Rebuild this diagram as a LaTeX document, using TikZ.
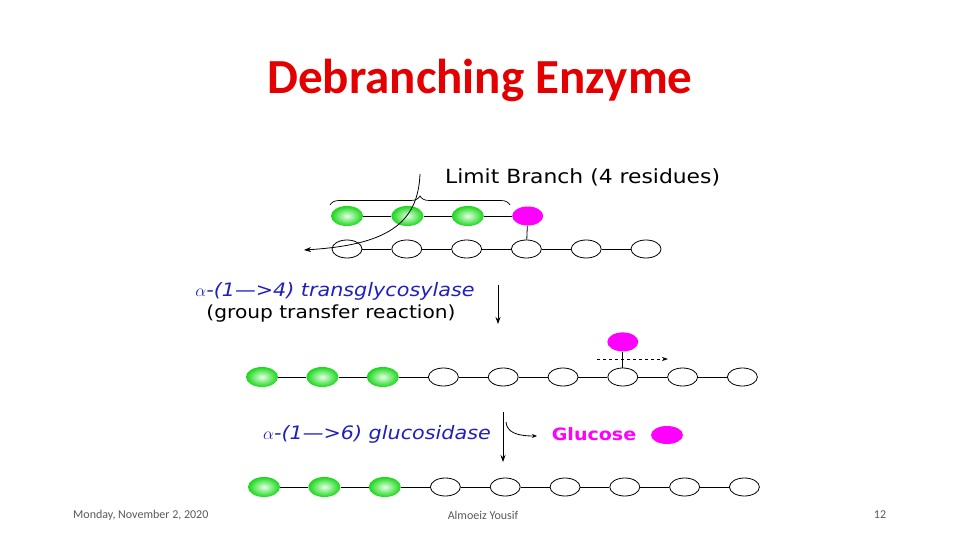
\documentclass[tikz,border=0pt]{standalone}
\usepackage{fontspec}
\setmainfont{Carlito}
\newfontfamily\comicfont[FakeStretch=1.12]{DejaVu Sans}
\usetikzlibrary{positioning,arrows.meta,shapes.geometric,decorations.pathreplacing}
\definecolor{dbred}{RGB}{228,0,0}
\definecolor{dbblue}{RGB}{32,32,190}
\definecolor{dbpink}{RGB}{255,0,255}
\definecolor{dbgreen}{RGB}{25,215,25}
\definecolor{dbgray}{RGB}{90,90,90}
\tikzset{
  res/.style={draw, ellipse, line width=0.8pt, minimum width=30pt, minimum height=18pt, inner sep=0pt},
  glc/.style={ellipse, minimum width=32pt, minimum height=20pt, inner sep=0pt, inner color=green!10, outer color=dbgreen},
  pinkres/.style={ellipse, fill=dbpink, minimum width=31pt, minimum height=19pt, inner sep=0pt},
  bond/.style={line width=0.8pt},
  arrow/.style={-{Stealth[length=7pt,width=5pt]}, line width=0.8pt},
  lbl/.style={font=\comicfont\fontsize{18}{21}\selectfont, inner sep=0pt},
  enz/.style={font=\comicfont\itshape\fontsize{18.5}{21}\selectfont, text=dbblue, inner sep=0pt},
  foot/.style={font=\fontsize{12}{14}\selectfont, text=dbgray, inner sep=0pt}
}
\begin{document}
\begin{tikzpicture}[x=1pt, y=-1pt, node distance=28pt]
  \useasboundingbox[fill=white] (0,0) rectangle (960,540);
  \node[font=\bfseries\fontsize{49}{54}\selectfont, text=dbred] (title) at (480,80) {Debranching Enzyme};

  % limit branch
  \node[lbl, font=\comicfont\fontsize{19.5}{22}\selectfont, anchor=west] (limit) at (445,177) {Limit Branch (4 residues)};
  \node[glc] (b1) at (347,216) {};
  \node[glc, right=of b1] (b2) {};
  \node[glc, right=of b2] (b3) {};
  \node[pinkres, right=of b3] (bp) {};
  \node[res] (a1) at (347,249) {};
  \node[res, right=of a1, xshift=1pt] (a2) {};
  \node[res, right=of a2, xshift=1pt] (a3) {};
  \node[res, right=of a3, xshift=1pt] (a4) {};
  \node[res, right=of a4, xshift=1pt] (a5) {};
  \node[res, right=of a5, xshift=1pt] (a6) {};
  \draw[bond] (b1) -- (b2) -- (b3) -- (bp);
  \draw[bond] (a1) -- (a2) -- (a3) -- (a4) -- (a5) -- (a6);
  \draw[bond] (bp) -- (a4);
  \coordinate (brl) at (330,205);
  \coordinate (brr) at (510,205);
  \draw[line width=0.7pt, decorate, decoration={brace, amplitude=9pt}] (brl) -- (brr);
  \coordinate (mv1) at (420,174);
  \coordinate (mv2) at (304,250);
  \draw[arrow] (mv1) .. controls (418,225) and (385,245) .. (mv2);

  % transglycosylase step
  \node[enz] (enz1) at (335,291) {$\alpha$-(1—>4) transglycosylase};
  \node[lbl] (grp) at (331,314) {(group transfer reaction)};
  \coordinate (s1t) at (498,285);
  \coordinate (s1b) at (498,324);
  \draw[arrow] (s1t) -- (s1b);

  \node[glc] (c1) at (262,377) {};
  \node[glc, right=of c1] (c2) {};
  \node[glc, right=of c2] (c3) {};
  \node[res, right=of c3, xshift=1pt] (c4) {};
  \node[res, right=of c4, xshift=1pt] (c5) {};
  \node[res, right=of c5, xshift=1pt] (c6) {};
  \node[res, right=of c6, xshift=1pt] (c7) {};
  \node[res, right=of c7, xshift=1pt] (c8) {};
  \node[res, right=of c8, xshift=1pt] (c9) {};
  \node[pinkres, above=16pt of c7] (cp) {};
  \draw[bond] (c1) -- (c2) -- (c3) -- (c4) -- (c5) -- (c6) -- (c7) -- (c8) -- (c9);
  \draw[bond] (cp) -- (c7);
  \coordinate (dl) at (597,359);
  \coordinate (dr) at (668,359);
  \draw[arrow, dashed, -{Stealth[length=6pt,width=4pt]}] (dl) -- (dr);

  % glucosidase step
  \node[enz] (enz2) at (377,434) {$\alpha$-(1—>6) glucosidase};
  \coordinate (s2t) at (503,412);
  \coordinate (s2b) at (503,462);
  \draw[arrow] (s2t) -- (s2b);
  \coordinate (gl1) at (506,422);
  \coordinate (gl2) at (537,436);
  \draw[arrow, -{Stealth[length=5pt,width=4pt]}] (gl1) .. controls (507,432) and (516,436) .. (gl2);
  \node[lbl, font=\comicfont\bfseries\fontsize{17}{20}\selectfont, text=dbpink] (glu) at (594,434) {Glucose};
  \node[pinkres, minimum width=32pt, minimum height=18pt] (gp) at (667,435) {};

  \node[glc] (e1) at (264,487) {};
  \node[glc, right=of e1] (e2) {};
  \node[glc, right=of e2] (e3) {};
  \node[res, right=of e3, xshift=1pt] (e4) {};
  \node[res, right=of e4, xshift=1pt] (e5) {};
  \node[res, right=of e5, xshift=1pt] (e6) {};
  \node[res, right=of e6, xshift=1pt] (e7) {};
  \node[res, right=of e7, xshift=1pt] (e8) {};
  \node[res, right=of e8, xshift=1pt] (e9) {};
  \draw[bond] (e1) -- (e2) -- (e3) -- (e4) -- (e5) -- (e6) -- (e7) -- (e8) -- (e9);

  % footer
  \node[foot, anchor=west] (date) at (73,515) {Monday, November 2, 2020};
  \node[foot] (author) at (483,515) {Almoeiz Yousif};
  \node[foot] (page) at (880,515) {12};
\end{tikzpicture}
\end{document}
